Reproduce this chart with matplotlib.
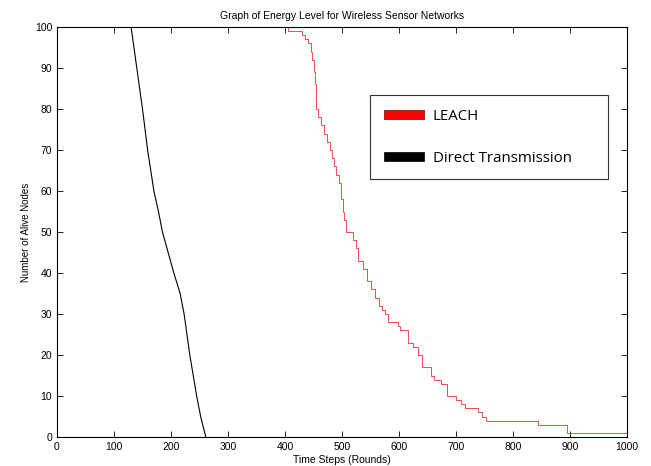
import matplotlib
matplotlib.use("Agg")
import matplotlib.pyplot as plt
from matplotlib.patches import Patch

# Direct Transmission: (round, alive nodes)
direct_rounds = [0, 130, 135, 140, 150, 159, 170, 178, 185, 195, 205, 216, 223, 233, 245, 252, 261]
direct_alive = [100, 100, 95, 90, 80, 70, 60, 55, 50, 45, 40, 35, 30, 20, 10, 5, 0]

# LEACH: step changes (round, alive nodes)
leach_rounds = [0, 405, 430, 435, 440, 445, 448, 450, 452, 454, 455, 458, 463, 469, 474, 479,
                482, 486, 490, 495, 498, 501, 503, 507, 519, 524, 528, 537, 544, 550, 558, 565,
                570, 576, 581, 598, 602, 615, 624, 633, 641, 657, 662, 674, 685, 700, 709, 715,
                738, 746, 753, 843, 895, 1000]
leach_alive = [100, 99, 98, 97, 96, 94, 92, 89, 86, 83, 80, 78, 76, 74, 72, 70,
               68, 66, 64, 62, 58, 55, 53, 50, 48, 46, 43, 41, 38, 36, 34, 32,
               31, 30, 28, 27, 26, 23, 22, 20, 17, 15, 14, 13, 10, 9, 8, 7,
               6, 5, 4, 3, 1, 1]

title = "Graph of Energy Level for Wireless Sensor Networks"
xlabel = "Time Steps (Rounds)"
ylabel = "Number of Alive Nodes"
legend_labels = ["LEACH", "Direct Transmission"]

plt.rcParams['font.family'] = ['Liberation Sans', 'DejaVu Sans']

fig = plt.figure(figsize=(6.51, 4.66), dpi=100)
ax = fig.add_axes([57/651, 1-437/466, 570/651, 410/466])

ax.plot(direct_rounds, direct_alive, color='black', lw=0.8)
ax.plot(leach_rounds, leach_alive, color='#f03030', lw=0.6, drawstyle='steps-post')

ax.set_xlim(0, 1000)
ax.set_ylim(0, 100)
ax.set_xticks(range(0, 1001, 100))
ax.set_yticks(range(0, 101, 10))
ax.tick_params(direction='in', top=True, right=True, labelsize=7.5, length=4, width=0.6)
for s in ax.spines.values():
    s.set_linewidth(0.8)
ax.set_title(title, fontsize=7.5, pad=6)
ax.set_xlabel(xlabel, fontsize=7.5, labelpad=2)
ax.set_ylabel(ylabel, fontsize=7, labelpad=3)

handles = [Patch(facecolor='red', edgecolor='#800000', lw=0.5),
           Patch(facecolor='black', edgecolor='black', lw=0.5)]
x0 = (370 - 57) / 570
w = (608 - 370) / 570
top = (437 - 95) / 410
leg = ax.legend(handles, legend_labels, loc='upper left',
                bbox_to_anchor=(x0, top - 0.2, w, 0.2), mode='expand',
                prop={'family': ['Open Sans', 'DejaVu Sans'], 'size': 10.8},
                frameon=True, fancybox=False, edgecolor='black', borderpad=0.9,
                labelspacing=1.8, handlelength=2.7, handleheight=0.55, handletextpad=0.6,
                borderaxespad=0)
leg.get_frame().set_linewidth(0.8)

fig.savefig("out.png", dpi=100)
